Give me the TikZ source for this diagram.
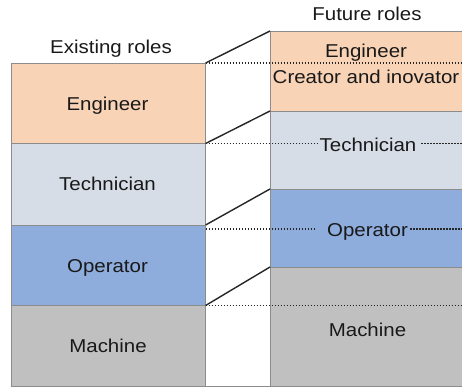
\documentclass[tikz,border=0pt]{standalone}
\usepackage{fontspec}
\setmainfont[FakeStretch=1.1]{Liberation Sans}
\newcommand{\rolefont}{\fontsize{18.6}{22}\selectfont}
\definecolor{engfill}{HTML}{F9D3B6}
\definecolor{techfill}{HTML}{D6DDE7}
\definecolor{opfill}{HTML}{8EACDC}
\definecolor{machfill}{HTML}{C0C0C0}
\begin{document}
\begin{tikzpicture}[x=1pt,y=-1pt,
  box/.style={draw=black!45, line width=0.6pt},
  lbl/.style={font=\rolefont, text=black!90, inner sep=0pt, anchor=base},
  link/.style={line width=1.4pt, draw=black!85},
  tier/.style={dash pattern=on 1.6pt off 1.4pt, line width=1.6pt, draw=black!85}]
\useasboundingbox (0,0) rectangle (462,387);
\clip (0,0) rectangle (462,387);

% level corners of the existing column (right edge)
\coordinate (L0) at (205.6,63);
\coordinate (L1) at (205.6,143.5);
\coordinate (L2) at (205.6,225);
\coordinate (L3) at (205.6,305.5);
\coordinate (L4) at (205.6,386);
% level corners of the future column (left edge)
\coordinate (R0) at (270,31);
\coordinate (R1) at (270,111);
\coordinate (R2) at (270,189);
\coordinate (R3) at (270,267);
\coordinate (R4) at (270,386);

% existing roles column
\path[box, fill=engfill]  (11,63)    rectangle (L1);
\path[box, fill=techfill] (11,143.5) rectangle (L2);
\path[box, fill=opfill]   (11,225)   rectangle (L3);
\path[box, fill=machfill] (11,305.5) rectangle (L4);

% future roles column
\path[box, fill=engfill]  (R0) rectangle (470,111);
\path[box, fill=techfill] (R1) rectangle (470,189);
\path[box, fill=opfill]   (R2) rectangle (470,267);
\path[box, fill=machfill] (R3) rectangle (470,386);

% bottom of the gap between the columns
\draw[box] (L4) -- (R4);

% dotted level lines carried across
\draw[tier] (L0) -- (470,63);
\draw[tier] (L1) -- (317,143.5);
\draw[tier] (421,143.5) -- (470,143.5);
\draw[tier] (205.6,229) -- (315,229);
\draw[tier] (410,229) -- (470,229);
\draw[tier] (L3) -- (470,305.5);

% slanted links between matching levels
\draw[link] (L0) -- (R0);
\draw[link] (L1) -- (R1);
\draw[link] (L2) -- (R2);
\draw[link] (L3) -- (R3);

% headings
\node[lbl] (hexist) at (111,53.3) {Existing roles};
\node[lbl] (hfuture) at (367,20.7) {Future roles};

% existing role labels
\node[lbl] (lEng)  at (107.5,111)   {Engineer};
\node[lbl] (lTech) at (107.5,190)   {Technician};
\node[lbl] (lOp)   at (107.5,272.7) {Operator};
\node[lbl] (lMach) at (108,352.7)   {Machine};

% future role labels
\node[lbl] (rEng)  at (366,57.3)    {Engineer};
\node[lbl] (rCre)  at (366,83.3)    {Creator and inovator};
\node[lbl] (rTech) at (368,151.7)   {Technician};
\node[lbl] (rOp)   at (367.5,236.7) {Operator};
\node[lbl] (rMach) at (367.5,336.7) {Machine};
\end{tikzpicture}
\end{document}
